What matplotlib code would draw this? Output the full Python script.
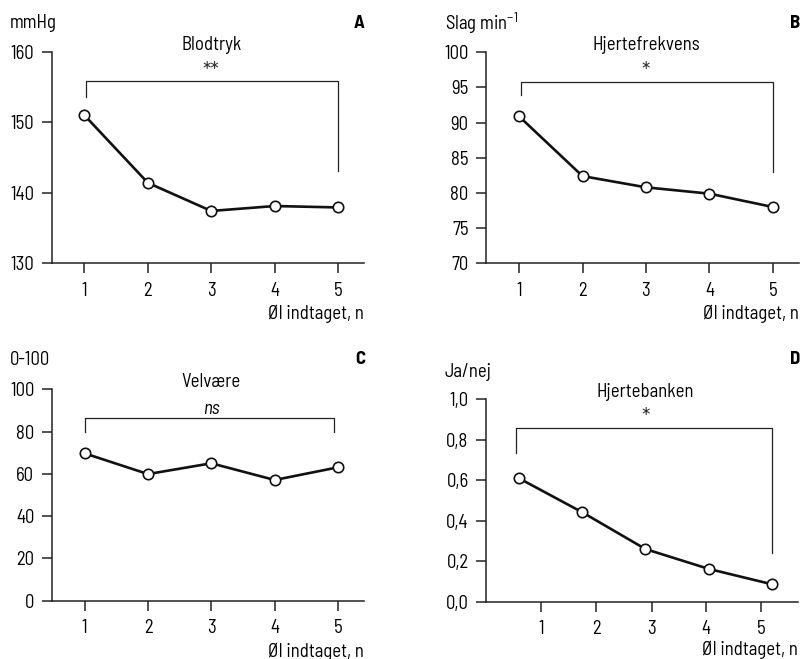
import matplotlib
matplotlib.use('Agg')
import matplotlib.pyplot as plt
from matplotlib.ticker import FuncFormatter

plt.rcParams['font.family'] = ['Barlow Semi Condensed', 'DejaVu Sans']
plt.rcParams['mathtext.fontset'] = 'custom'
plt.rcParams['mathtext.rm'] = 'Barlow Semi Condensed'

W, H = 803, 659

n_beer = [1, 2, 3, 4, 5]
blodtryk = [151.0, 141.4, 137.4, 138.1, 137.9]
hjertefrekvens = [90.9, 82.4, 80.8, 79.9, 78.0]
velvaere = [69.7, 59.9, 65.0, 57.1, 63.1]
hjertebanken = [0.61, 0.442, 0.26, 0.162, 0.086]

# bracket: x left, x right, top, left leg end, right leg end
bracket_a = [1.03, 5.0, 155.9, 153.6, 143.1]
bracket_b = [1.03, 5.0, 95.8, 93.9, 83.0]
bracket_c = [1.0, 4.94, 86.3, 79.9, 79.9]
bracket_d = [0.95, 5.0, 0.86, 0.733, 0.242]

# panel D's tick marks sit offset from the points in the original
d_tick_pos = [1.35, 2.22, 3.10, 3.96, 4.83]
d_tick_lab = ['1', '2', '3', '4', '5']

panels = [
    # data, ylim, yticks, rect(px: left, top, right, bottom), title, sig, unit, letter, bracket
    (blodtryk, (130, 160), [130, 140, 150, 160], (51.5, 52, 364, 263),
     'Blodtryk', '**', 'mmHg', 'A', bracket_a),
    (hjertefrekvens, (70, 100), [70, 75, 80, 85, 90, 95, 100], (486, 52.3, 799, 263.3),
     'Hjertefrekvens', '*', 'Slag min$^{\\mathregular{-1}}$', 'B', bracket_b),
    (velvaere, (0, 100), [0, 20, 40, 60, 80, 100], (51.7, 389.3, 364, 600.7),
     'Velvære', 'ns', '0-100', 'C', bracket_c),
    (hjertebanken, (0, 1.0), [0, 0.2, 0.4, 0.6, 0.8, 1.0], (486, 399.3, 798, 601.7),
     'Hjertebanken', '*', 'Ja/nej', 'D', bracket_d),
]

fig = plt.figure(figsize=(W / 100, H / 100), dpi=100)

for i, (vals, ylim, yticks, rect, title, sig, unit, letter, br) in enumerate(panels):
    l, t, r, b = rect
    ax = fig.add_axes([l / W, 1 - b / H, (r - l) / W, (b - t) / H])
    ax.plot(n_beer, vals, color='#111111', lw=1.9, marker='o', ms=7.5,
            mfc='white', mec='#111111', mew=1.2, clip_on=False, zorder=3)
    ax.set_xlim(0.48, 5.41)
    ax.set_ylim(*ylim)
    ax.set_yticks(yticks)
    if letter == 'D':
        ax.set_xticks(d_tick_pos)
        ax.set_xticklabels(d_tick_lab)
        ax.yaxis.set_major_formatter(FuncFormatter(lambda v, p: f'{v:.1f}'.replace('.', ',')))
    else:
        ax.set_xticks(n_beer)
    for s in ['top', 'right']:
        ax.spines[s].set_visible(False)
    for s in ['left', 'bottom']:
        ax.spines[s].set_linewidth(1.1)
        ax.spines[s].set_color('#222222')
    ax.tick_params(direction='out', length=7.5, width=1.1, color='#222222',
                   labelsize=13.5, pad=5)
    ax.tick_params(axis='x', pad=6)

    # significance bracket
    x0, x1, top, le, re = br
    ax.plot([x0, x0, x1, x1], [le, top, top, re], color='#222222', lw=0.9,
            clip_on=False)
    ax.text(3, 1.035, title, transform=ax.get_xaxis_transform(), ha='center',
            va='center', fontsize=13.5)
    if sig == 'ns':
        ax.text(3, 0.905, sig, transform=ax.get_xaxis_transform(), ha='center',
                va='center', fontsize=13.5, style='italic')
    else:
        ax.text(3, 0.905, sig, transform=ax.get_xaxis_transform(), ha='center',
                va='center', fontsize=16, color='#333333')

    ax.text(1.0, -0.24, 'Øl indtaget, n', transform=ax.transAxes, ha='right',
            va='center', fontsize=13.5)

    col = 0 if i % 2 == 0 else 1
    row_y = 23 if i < 2 else 360
    unit_x = 10 if col == 0 else 445
    unit_y = row_y if letter != 'D' else 372
    fig.text(unit_x / W, 1 - unit_y / H, unit, ha='left', va='center', fontsize=13.5)
    fig.text((365 if col == 0 else 800) / W, 1 - row_y / H, letter, ha='right',
             va='center', fontsize=13.5, fontweight='bold')

fig.savefig('out.png', dpi=100)
